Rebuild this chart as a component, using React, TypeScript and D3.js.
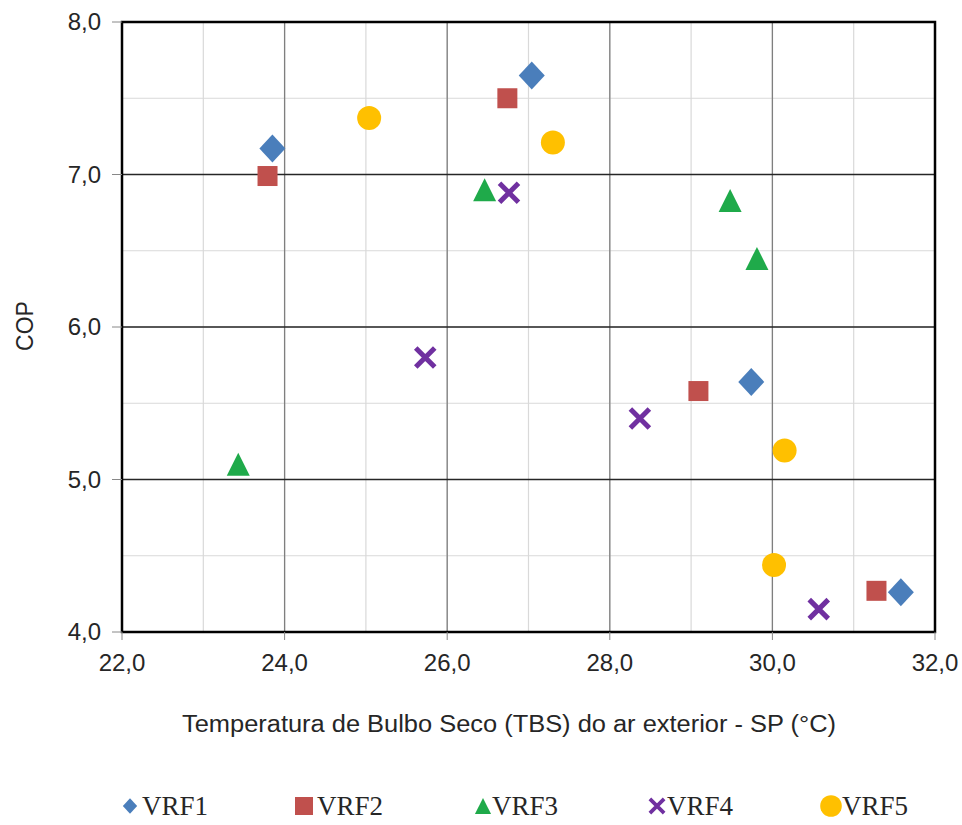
import React from "react";
import * as d3 from "d3";

const xTicks = [22, 24, 26, 28, 30, 32];
const yTicks = [4, 5, 6, 7, 8];
const seriesNames = ["VRF1", "VRF2", "VRF3", "VRF4", "VRF5"];
const seriesColors = ["#4a7ebb", "#c0504d", "#1faa4a", "#7030a0", "#ffc000"];
const seriesShapes = ["diamond", "square", "triangle", "cross", "circle"];

const vrf1X = [23.85, 27.04, 29.74, 31.58];
const vrf1Y = [7.17, 7.65, 5.64, 4.26];
const vrf2X = [23.79, 26.74, 29.09, 31.28];
const vrf2Y = [6.99, 7.5, 5.58, 4.27];
const vrf3X = [23.43, 26.46, 29.48, 29.81];
const vrf3Y = [5.1, 6.9, 6.83, 6.45];
const vrf4X = [25.73, 26.76, 28.37, 30.57];
const vrf4Y = [5.8, 6.88, 5.4, 4.15];
const vrf5X = [25.04, 27.3, 30.15, 30.02];
const vrf5Y = [7.37, 7.21, 5.19, 4.44];

const seriesX = [vrf1X, vrf2X, vrf3X, vrf4X, vrf5X];
const seriesY = [vrf1Y, vrf2Y, vrf3Y, vrf4Y, vrf5Y];

const fmt = (v: number) => v.toFixed(1).replace(".", ",");

function Marker({ shape, color, cx, cy, s = 1 }: any) {
  if (shape === "diamond") {
    const w = 13 * s, h = 14 * s;
    return <path d={`M${cx},${cy - h}L${cx + w},${cy}L${cx},${cy + h}L${cx - w},${cy}Z`} fill={color} />;
  }
  if (shape === "square") {
    const w = 10 * s;
    return <rect x={cx - w} y={cy - w} width={2 * w} height={2 * w} fill={color} />;
  }
  if (shape === "triangle") {
    const w = 11.5 * s, h = 11.5 * s;
    return <path d={`M${cx},${cy - h}L${cx + w},${cy + h}L${cx - w},${cy + h}Z`} fill={color} />;
  }
  if (shape === "cross") {
    const w = 9.5 * s;
    return (
      <path d={`M${cx - w},${cy - w}L${cx + w},${cy + w}M${cx - w},${cy + w}L${cx + w},${cy - w}`}
        stroke={color} strokeWidth={5 * s} strokeLinecap="butt" fill="none" />
    );
  }
  return <circle cx={cx} cy={cy} r={12 * s} fill={color} />;
}

export default function App() {
  const left = 122, right = 935, top = 22, bottom = 632;
  const x = d3.scaleLinear().domain([22, 32]).range([left, right]);
  const y = d3.scaleLinear().domain([4, 8]).range([bottom, top]);
  const xMinor = d3.range(22, 32.01, 1);
  const yMinor = d3.range(4, 8.01, 0.5);

  const legendMarkerX = [130, 304, 483, 657, 831];
  const legendTextX = [142, 317, 492, 667, 842];
  const legendMarkerScale = [0.55, 0.9, 0.7, 0.75, 0.9];

  return (
    <svg width={962} height={825} style={{ position: "absolute", left: 0, top: 0, background: "#fff" }}
      fontFamily="'Liberation Sans', Arial, sans-serif">
      <rect x={0} y={0} width={962} height={825} fill="#fff" />
      {xMinor.map((v) => (
        <line key={"xm" + v} x1={x(v)} x2={x(v)} y1={top} y2={bottom} stroke="#d9d9d9" strokeWidth={1.2} />
      ))}
      {yMinor.map((v) => (
        <line key={"ym" + v} x1={left} x2={right} y1={y(v)} y2={y(v)} stroke="#d9d9d9" strokeWidth={1.2} />
      ))}
      {xTicks.map((v) => (
        <line key={"xM" + v} x1={x(v)} x2={x(v)} y1={top} y2={bottom} stroke="#7f7f7f" strokeWidth={1.3} />
      ))}
      {yTicks.map((v) => (
        <line key={"yM" + v} x1={left} x2={right} y1={y(v)} y2={y(v)} stroke="#262626" strokeWidth={1.6} />
      ))}
      <rect x={left} y={top} width={right - left} height={bottom - top} fill="none" stroke="#000" strokeWidth={2.5} />
      {yTicks.map((v) => (
        <g key={"yt" + v}>
          <line x1={left - 10} x2={left} y1={y(v)} y2={y(v)} stroke="#888" strokeWidth={1} />
          <text x={101} y={y(v)} dy="0.35em" textAnchor="end" fontSize={24} fill="#262626">{fmt(v)}</text>
        </g>
      ))}
      {xTicks.map((v) => (
        <g key={"xt" + v}>
          <line x1={x(v)} x2={x(v)} y1={bottom} y2={bottom + 8} stroke="#888" strokeWidth={1} />
          <text x={x(v)} y={671} textAnchor="middle" fontSize={24} fill="#262626">{fmt(v)}</text>
        </g>
      ))}
      <text x={509} y={732} textAnchor="middle" fontSize={23} fill="#262626"
        textLength={654} lengthAdjust="spacingAndGlyphs">
        Temperatura de Bulbo Seco (TBS) do ar exterior - SP (°C)
      </text>
      <text transform="translate(33,326) rotate(-90)" textAnchor="middle" fontSize={23} fill="#262626">COP</text>

      {seriesNames.map((name, si) => (
        <g key={name}>
          {seriesX[si].map((xv, i) => (
            <Marker key={i} shape={seriesShapes[si]} color={seriesColors[si]} cx={x(xv)} cy={y(seriesY[si][i])} />
          ))}
        </g>
      ))}

      {seriesNames.map((name, si) => (
        <g key={"lg" + name}>
          <Marker shape={seriesShapes[si]} color={seriesColors[si]} cx={legendMarkerX[si]} cy={806}
            s={legendMarkerScale[si]} />
          <text x={legendTextX[si]} y={815} fontSize={27} fontFamily="'Liberation Serif', 'Times New Roman', serif"
            fill="#262626">{name}</text>
        </g>
      ))}
    </svg>
  );
}
